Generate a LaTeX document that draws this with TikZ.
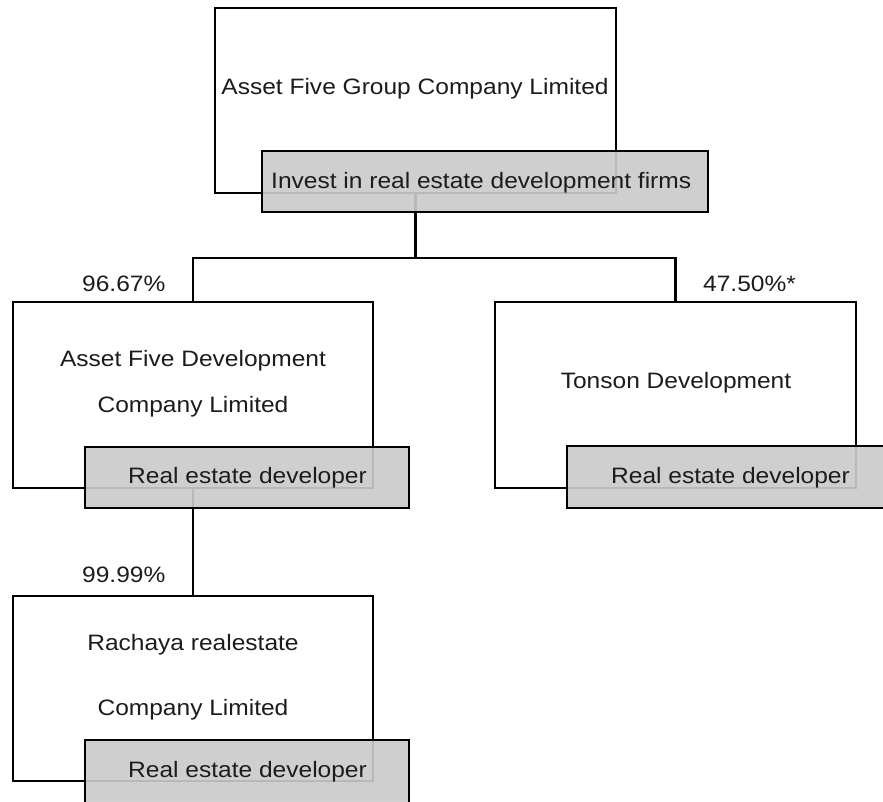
\documentclass[tikz,border=0pt]{standalone}
\usepackage{fontspec}
\setmainfont[FakeStretch=1.1]{Liberation Sans}
\definecolor{boxgray}{RGB}{203,203,203}
\definecolor{txt}{RGB}{28,28,28}
\begin{document}
\begin{tikzpicture}[x=1pt,y=-1pt,
  whitebox/.style={draw=black, fill=white, line width=2.8pt, inner sep=0pt, outer sep=0pt},
  graybox/.style={draw=black, fill=boxgray, fill opacity=0.91, line width=2.8pt, inner sep=0pt, outer sep=0pt},
  lbl/.style={anchor=base west, inner sep=0pt, text=txt, font=\fontsize{22.3}{26}\selectfont},
  clbl/.style={anchor=base, inner sep=0pt, text=txt, font=\fontsize{22.3}{26}\selectfont},
  conn/.style={draw=black, line width=2.8pt}]
\useasboundingbox (0,0) rectangle (883,801);
\clip (0,0) rectangle (883,801);
\fill[white] (0,0) rectangle (883,801);
% box frames
\node[whitebox, minimum width=401pt, minimum height=185pt] (top) at (415.5,100.5) {};
\node[whitebox, minimum width=360pt, minimum height=186pt] (lw) at (193,395) {};
\node[whitebox, minimum width=361pt, minimum height=186pt] (rw) at (675.5,395) {};
\node[whitebox, minimum width=360pt, minimum height=185pt] (bw) at (193,688.5) {};
% connectors
\coordinate (bus) at (415.5,258);
\draw[conn] (top.south) -- (bus);
\draw[conn] (lw.north) |- (bus);
\draw[conn] (rw.north) |- (bus);
\draw[conn] (lw.south) -- (bw.north);
% gray boxes
\node[graybox, minimum width=446pt, minimum height=61pt] (tg) at (485,181.5) {};
\node[graybox, minimum width=324pt, minimum height=61pt] (lg) at (247,477.5) {};
\node[graybox, minimum width=324pt, minimum height=62pt] (rg) at (729,477) {};
\node[graybox, minimum width=324pt, minimum height=80pt] (bg) at (247,780) {};
% texts
\node[clbl] (t1) at (415,94) {Asset Five Group Company Limited};
\node[lbl] (t2) at (271,188) {Invest in real estate development firms};
\node[lbl] (p1) at (82,291) {96.67\%};
\node[lbl] (p2) at (703,291) {47.50\%*};
\node[lbl] (p3) at (82,582) {99.99\%};
\node[clbl] (l1) at (193,366) {Asset Five Development};
\node[clbl] (l2) at (193,412) {Company Limited};
\node[lbl] (l3) at (128,483) {Real estate developer};
\node[clbl] (r1) at (676,388) {Tonson Development};
\node[lbl] (r3) at (611,483) {Real estate developer};
\node[clbl] (b1) at (193,650) {Rachaya realestate};
\node[clbl] (b2) at (193,715) {Company Limited};
\node[lbl] (b3) at (128,777) {Real estate developer};
\end{tikzpicture}
\end{document}
